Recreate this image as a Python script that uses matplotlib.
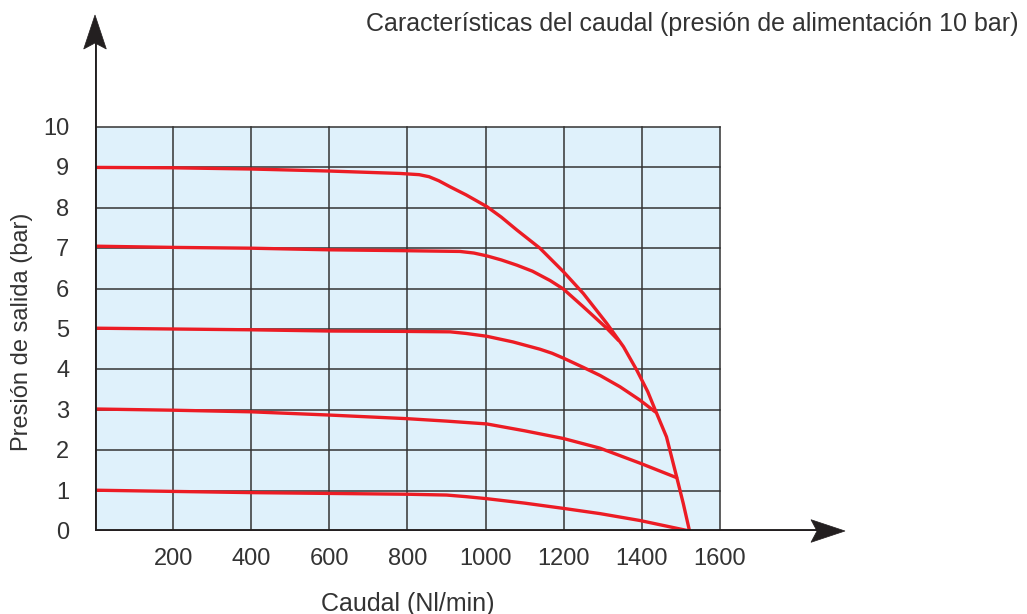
import matplotlib
matplotlib.use("Agg")
import matplotlib.pyplot as plt
from matplotlib.patches import Polygon
from matplotlib.transforms import IdentityTransform

plt.rcParams['font.family'] = ['Liberation Sans', 'DejaVu Sans']

title = "Características del caudal (presión de alimentación 10 bar)"
xlabel = "Caudal (Nl/min)"
ylabel = "Presión de salida (bar)"
xticks = [200, 400, 600, 800, 1000, 1200, 1400, 1600]
yticks = [0, 1, 2, 3, 4, 5, 6, 7, 8, 9, 10]

x9 = [0, 200, 400, 600, 781, 830, 855, 880, 909, 950, 1003, 1040, 1080, 1139, 1199, 1250, 1310, 1353, 1387, 1415, 1434, 1463, 1489, 1506, 1522]
y9 = [9.0, 8.99, 8.96, 8.91, 8.85, 8.82, 8.77, 8.67, 8.52, 8.32, 8.03, 7.77, 7.45, 7.0, 6.42, 5.88, 5.14, 4.56, 3.98, 3.45, 3.0, 2.33, 1.34, 0.68, 0.0]
x7 = [0, 200, 400, 600, 781, 934, 970, 1003, 1040, 1080, 1120, 1165, 1199, 1250, 1310, 1340]
y7 = [7.05, 7.02, 7.0, 6.96, 6.94, 6.92, 6.88, 6.81, 6.71, 6.58, 6.43, 6.2, 5.99, 5.55, 5.02, 4.72]
x5 = [0, 200, 400, 600, 800, 909, 950, 1003, 1070, 1139, 1170, 1199, 1250, 1293, 1344, 1395, 1434]
y5 = [5.02, 5.0, 4.98, 4.95, 4.94, 4.93, 4.89, 4.82, 4.68, 4.5, 4.4, 4.28, 4.05, 3.85, 3.57, 3.24, 2.95]
x3 = [0, 200, 400, 600, 800, 900, 1003, 1100, 1199, 1293, 1395, 1489]
y3 = [3.02, 2.99, 2.95, 2.87, 2.78, 2.72, 2.65, 2.48, 2.29, 2.05, 1.68, 1.32]
x1 = [0, 200, 400, 600, 800, 900, 950, 1003, 1100, 1199, 1293, 1395, 1522]
y1 = [1.01, 0.98, 0.95, 0.93, 0.91, 0.89, 0.85, 0.8, 0.69, 0.56, 0.43, 0.26, 0.0]
curves = [(x9, y9), (x7, y7), (x5, y5), (x3, y3), (x1, y1)]

XMAX, YMAX = 1600, 10
W, H = 1027, 614
fig = plt.figure(figsize=(W / 100, H / 100), dpi=100)
ax = fig.add_axes([95 / W, (H - 531) / H, (845 - 95) / W, (531 - 15) / H])
ax.set_xlim(0, (845 - 95) / 0.390625)
ax.set_ylim(0, (531 - 15) / 40.4)
ax.axis('off')

ax.add_patch(plt.Rectangle((0, 0), XMAX, YMAX, facecolor='#dff1fb', edgecolor='none', zorder=0))
for xv in xticks:
    ax.plot([xv, xv], [0, YMAX], color='#333333', lw=1.1, zorder=1)
for yv in yticks[1:]:
    ax.plot([0, XMAX], [yv, yv], color='#333333', lw=1.1, zorder=1)

for xs, ys in curves:
    ax.plot(xs, ys, color='#ec1c24', lw=2.4, solid_joinstyle='round', solid_capstyle='round', zorder=3)

# axes with arrow heads
acol = '#231f20'
xl = ax.get_xlim()[1]
yl = ax.get_ylim()[1]
fig.canvas.draw()
tx = ax.transData.transform((xl, 0))
ty = ax.transData.transform((0, yl))
o = ax.transData.transform((0, 0))
L, HW, N = 34, 11.3, 28
inv = ax.transData.inverted()
ax.plot([inv.transform((o[0] - 2, o[1]))[0], inv.transform((tx[0] - N, tx[1]))[0]],
        [0, 0], color=acol, lw=2.8, solid_capstyle='butt', zorder=4)
ax.plot([0, 0], [inv.transform((o[0], o[1] - 1))[1], inv.transform((ty[0], ty[1] - N))[1]],
        color=acol, lw=2.8, solid_capstyle='butt', zorder=4)
hx = [(tx[0], tx[1]), (tx[0] - L, tx[1] + HW), (tx[0] - N, tx[1]), (tx[0] - L, tx[1] - HW)]
hy = [(ty[0], ty[1]), (ty[0] - HW, ty[1] - L), (ty[0], ty[1] - N), (ty[0] + HW, ty[1] - L)]
for pts in (hx, hy):
    fig.patches.append(Polygon(pts, closed=True, facecolor=acol, edgecolor=acol, lw=0.5,
                               transform=IdentityTransform(), figure=fig, zorder=5))

tc = '#333333'
for xv in xticks:
    ax.text(xv, -0.7, str(xv), ha='center', va='center', fontsize=17, color=tc)
for yv in yticks:
    ax.text(-66, yv - 0.05, str(yv), ha='right', va='center', fontsize=17, color=tc)

fig.text(1018 / W, 1 - 31 / H, title, ha='right', va='baseline', fontsize=18, color=tc)
fig.text(408 / W, 1 - 611 / H, xlabel, ha='center', va='baseline', fontsize=18, color=tc)
fig.text(22 / W, 1 - 332 / H, ylabel, ha='center', va='center', rotation=90, fontsize=17, color=tc)

fig.savefig('out.png', dpi=100)
